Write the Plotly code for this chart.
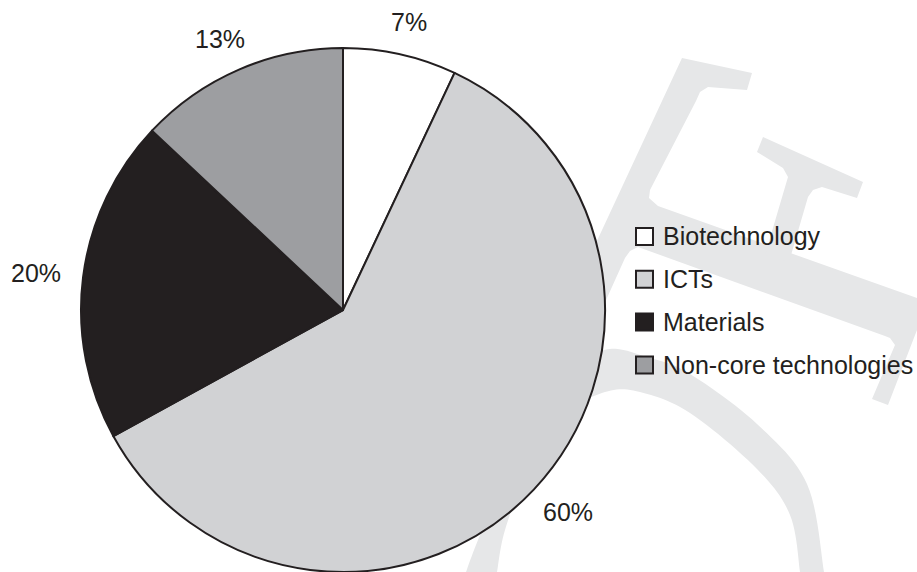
import numpy as np
import plotly.graph_objects as go

# ---- data ----
categories = ["Biotechnology", "ICTs", "Materials", "Non-core technologies"]
shares = [7, 60, 20, 13]
colors = ["#ffffff", "#d1d2d4", "#231f20", "#9d9ea1"]

W, H = 917, 572
CX, CY, R = 343, 310, 262  # pie centre / radius in pixels
TXT = "#231f20"
FONT = "Liberation Sans, Arial, sans-serif"
FS = 25


def px(x):
    return x / W


def py(y):
    return 1 - y / H


fig = go.Figure()
fig.add_trace(go.Pie(
    labels=categories, values=shares, sort=False, direction="clockwise",
    rotation=0, textinfo="none", hoverinfo="label+percent",
    marker=dict(colors=colors, line=dict(color="#231f20", width=2)),
    domain=dict(x=[px(CX - R), px(CX + R)], y=[py(CY + R), py(CY - R)]),
    showlegend=False,
))

# ---- percentage labels outside the slices ----
annotations = []
total = float(sum(shares))
cum = 0.0
GAP = 22
for v in shares:
    mid = (cum + v / 2) / total * 2 * np.pi
    cum += v
    txt = f"{round(v / total * 100)}%"
    tw = FS * (0.556 * (len(txt) - 1) + 0.889)
    th = FS * 0.9
    ux, uy = np.sin(mid), -np.cos(mid)
    x = CX + (R + GAP) * ux + tw / 2 * ux
    y = CY + (R + GAP) * uy + th / 2 * uy
    annotations.append(dict(x=px(x), y=py(y), xref="paper", yref="paper",
                            text=txt, showarrow=False,
                            xanchor="center", yanchor="middle",
                            font=dict(family=FONT, size=FS, color=TXT)))

# ---- legend (drawn manually) ----
shapes = []
LX, LY0, LGAP, BOX = 636, 236.5, 42.8, 17
for i, (c, col) in enumerate(zip(categories, colors)):
    yc = LY0 + i * LGAP
    shapes.append(dict(type="rect", xref="paper", yref="paper",
                       x0=px(LX), x1=px(LX + BOX), y0=py(yc + BOX / 2), y1=py(yc - BOX / 2),
                       line=dict(color="#231f20", width=2), fillcolor=col, layer="above"))
    annotations.append(dict(x=px(LX + 25), y=py(yc), xref="paper", yref="paper",
                            text=c, showarrow=False, xanchor="left", yanchor="middle",
                            font=dict(family=FONT, size=FS, color=TXT)))

# ---- faint background watermark ----
WM = "#e6e7e8"


def poly_path(pts):
    return "M " + " L ".join(f"{px(x):.5f},{py(y):.5f}" for x, y in pts) + " Z"


def catmull(pts, n=12):
    pts = np.asarray(pts, float)
    p = np.vstack([pts[0], pts, pts[-1]])
    out = []
    for i in range(1, len(p) - 2):
        p0, p1, p2, p3 = p[i - 1], p[i], p[i + 1], p[i + 2]
        for t in np.linspace(0, 1, n, endpoint=False):
            t2, t3 = t * t, t * t * t
            out.append(0.5 * ((2 * p1) + (-p0 + p2) * t + (2 * p0 - 5 * p1 + 4 * p2 - p3) * t2
                              + (-p0 + 3 * p1 - 3 * p2 + p3) * t3))
    out.append(p[-2])
    return [tuple(q) for q in out]


bracket = [(682, 58), (752, 73), (747, 90), (708, 87), (700, 92), (696, 101), (650, 190),
           (649, 198), (658, 206), (917, 298), (917, 330), (888, 405), (872, 399),
           (895, 345), (890, 338), (885, 336), (638, 247), (630, 251), (625, 258),
           (561, 400), (523, 400)]
tee = [(763, 137), (863, 182), (857, 198), (822, 187), (813, 190), (808, 197), (789, 262),
       (765, 255), (788, 177), (783, 168), (757, 152)]
outer = catmull([(466, 572), (478, 540), (515, 450), (560, 385), (604, 350), (650, 358),
                 (690, 374), (757, 424), (807, 484), (824, 572)])
inner = catmull([(800, 572), (790, 515), (757, 469), (690, 413), (640, 392), (605, 392),
                 (565, 415), (528, 470), (505, 530), (497, 572)])
for pts in (bracket, tee, outer + inner):
    shapes.append(dict(type="path", xref="paper", yref="paper", path=poly_path(pts),
                       fillcolor=WM, line=dict(width=0), layer="below"))

fig.update_layout(
    width=W, height=H, margin=dict(l=0, r=0, t=0, b=0),
    paper_bgcolor="white", plot_bgcolor="white",
    showlegend=False, shapes=shapes, annotations=annotations,
    font=dict(family=FONT, color=TXT),
)
fig.write_html("out.html")
